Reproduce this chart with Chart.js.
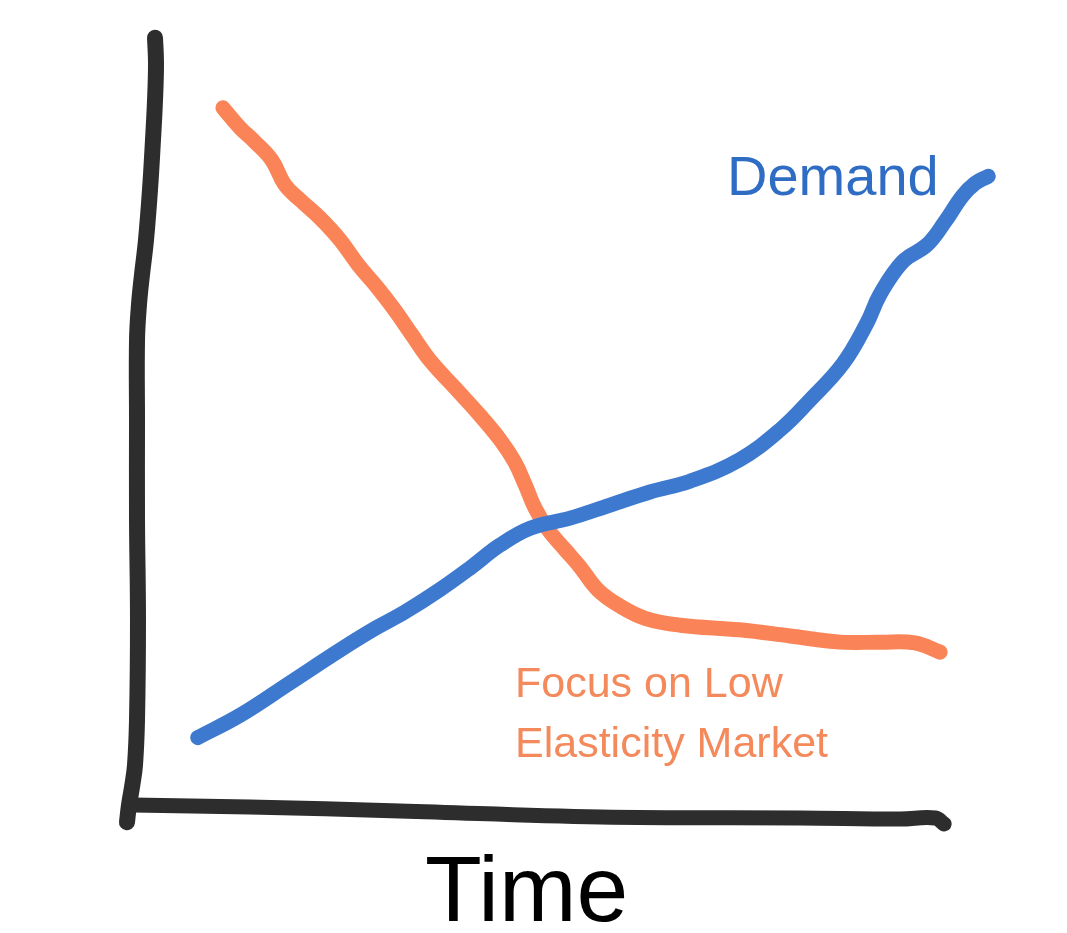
<!DOCTYPE html>
<html>
<head>
<meta charset="utf-8">
<script src="https://cdn.jsdelivr.net/npm/chart.js@4/dist/chart.umd.min.js"></script>
<style>
    body { margin: 0; background: #fff; }
    .wrap { width: 1067px; height: 933px; position: relative; }
</style>
</head>
<body>
<div class="wrap"><canvas id="myChart"></canvas></div>
<script>
// time 0..100 along the bottom axis, value 0..100 up the side axis
let demandX = [8.3, 13.5, 19.6, 25.8, 30.1, 33.7, 38.0, 41.7, 45.4, 49.1, 54.0, 58.9, 63.8, 68.7, 74.8, 79.8, 83.4, 87.5, 90.4, 92.0, 94.8, 97.8, 100.0, 102.1, 103.7, 105.3];
let demandY = [9.4, 12.3, 16.5, 20.8, 23.6, 25.7, 28.6, 31.4, 34.4, 36.6, 37.9, 39.6, 41.3, 42.7, 45.5, 49.4, 53.2, 58.0, 63.2, 66.9, 71.2, 73.4, 76.4, 79.7, 81.4, 82.3];

let focusX = [11.4, 13.5, 15.3, 17.4, 19.0, 20.9, 23.3, 25.8, 28.0, 30.4, 32.5, 34.6, 36.8, 39.9, 42.9, 45.4, 47.2, 48.5, 49.7, 51.3, 53.4, 55.2, 57.4, 60.1, 63.2, 67.5, 74.8, 81.0, 87.1, 92.0, 96.3, 99.4];
let focusY = [91.2, 88.6, 86.8, 84.4, 81.2, 79.2, 76.9, 74.0, 70.8, 67.8, 64.9, 61.7, 58.4, 54.8, 51.3, 48.1, 45.2, 42.2, 39.2, 36.4, 33.8, 31.6, 28.6, 26.5, 24.9, 24.0, 23.4, 22.6, 21.8, 21.8, 21.7, 20.5];

// hand drawn axes
let yAxisX = [3.07, 3.19, 3.07, 2.82, 2.45, 1.96, 1.47, 1.10, 0.86, 0.86, 0.86, 0.98, 0.86, 0.61, 0.25, -0.12, -0.37];
let yAxisY = [100.3, 97.0, 92.2, 87.0, 80.5, 74.0, 69.5, 65.6, 61.0, 50.6, 37.7, 24.7, 11.7, 5.8, 3.0, 0.65, -1.6];
let xAxisX = [0.37, 14.7, 33.1, 57.7, 82.2, 94.5, 98.8, 99.9];
let xAxisY = [0.65, 0.39, -0.13, -0.91, -1.04, -1.17, -1.04, -1.82];

let labels = {
    demand: "Demand",
    focus: ["Focus on Low", "Elasticity Market"],
    time: "Time"
};

function pts(xs, ys) {
    return xs.map(function (x, i) { return { x: x, y: ys[i] }; });
}

function lineSet(data, color, width, tension) {
    return {
        data: data,
        borderColor: color,
        borderWidth: width,
        borderCapStyle: "round",
        borderJoinStyle: "round",
        pointRadius: 0,
        tension: tension,
        fill: false,
        clip: false
    };
}

let textPlugin = {
    id: "handLabels",
    afterDatasetsDraw: function (chart) {
        let ctx = chart.ctx;
        ctx.save();
        ctx.textBaseline = "alphabetic";
        ctx.textAlign = "left";

        ctx.fillStyle = "#2f6cc4";
        ctx.font = "56px 'Liberation Sans', Arial, sans-serif";
        ctx.fillText(labels.demand, 727, 195);

        ctx.fillStyle = "#f4895c";
        ctx.font = "43px 'Liberation Sans', Arial, sans-serif";
        ctx.fillText(labels.focus[0], 515, 697);
        ctx.fillText(labels.focus[1], 515, 757);

        ctx.fillStyle = "#000";
        ctx.font = "93px 'Liberation Sans', Arial, sans-serif";
        ctx.fillText(labels.time, 425, 921);
        ctx.restore();
    }
};

let ctx = document.getElementById("myChart").getContext("2d");
new Chart(ctx, {
    type: "line",
    data: {
        datasets: [
            lineSet(pts(yAxisX, yAxisY), "#2d2d2d", 16, 0.4),
            lineSet(pts(xAxisX, xAxisY), "#2d2d2d", 15, 0.4),
            lineSet(pts(demandX, demandY), "rgb(61,122,207)", 15, 0.4),
            lineSet(pts(focusX, focusY), "rgba(249,115,64,0.88)", 15, 0.4)
        ]
    },
    options: {
        responsive: true,
        maintainAspectRatio: false,
        animation: false,
        layout: { padding: { left: 89.25, right: 40.5, top: 40, bottom: 123 } },
        scales: {
            x: { type: "linear", min: -5, max: 110, display: false },
            y: { type: "linear", min: 0, max: 100, display: false }
        },
        plugins: {
            legend: { display: false },
            tooltip: { enabled: false }
        }
    },
    plugins: [textPlugin]
});
</script>
</body>
</html>
